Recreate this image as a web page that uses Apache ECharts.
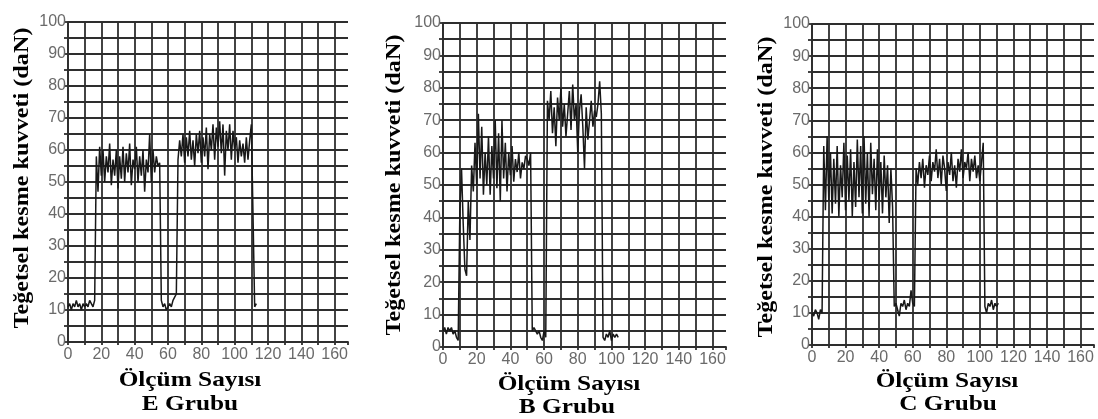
<!DOCTYPE html>
<html>
<head>
<meta charset="utf-8">
<script src="https://cdn.jsdelivr.net/npm/echarts@6/dist/echarts.min.js"></script>
<style>html,body{margin:0;padding:0;background:#fff;}#c{width:1098px;height:419px;}</style>
</head>
<body>
<div id="c"></div>
<script>
// Measurement values (one value per measurement, x = measurement number starting at 0)
const valuesE = [11,12,10,12,11,13,11,12,10,12,11,12,11,13,12,11,13,
  58,47,61,52,60,50,58,53,62,49,57,52,60,48,58,51,61,50,59,53,62,49,57,54,61,50,58,52,60,47,57,53,65,50,60,53,58,55,56,
  13,11,12,10,11,12,11,13,14,15,
  57,63,58,65,56,64,58,66,57,63,55,65,59,66,56,64,58,67,54,65,60,68,57,67,61,69,59,68,52,66,60,68,57,66,60,64,56,63,58,62,56,64,57,63,68,
  40,11,12];
const valuesB = [5,6,4,6,5,6,4,5,3,2,
  42,55,38,24,22,45,33,56,48,63,50,72,52,68,47,60,50,65,47,62,52,70,49,66,45,70,52,63,48,60,53,62,51,58,54,60,52,57,55,59,58,56,60,
  5,6,5,4,5,3,2,5,3,
  76,70,79,66,74,62,77,70,80,68,75,65,72,79,67,81,70,75,60,73,78,68,55,74,64,70,76,68,73,71,75,82,72,
  3,2,4,3,5,2,4,3,4,3];
const valuesC = [10,9,11,10,8,11,10,
  62,42,65,45,60,41,58,44,62,40,56,46,63,42,59,45,61,40,57,43,64,46,62,41,65,44,60,40,63,47,58,42,61,45,57,41,59,46,56,38,55,43,
  12,13,11,9,13,12,14,11,13,12,17,13,12,
  55,50,57,52,58,49,56,53,59,51,57,54,61,52,58,50,59,55,48,57,53,60,51,56,49,58,54,61,52,57,55,60,51,58,54,59,52,56,51,57,63,
  12,10,13,12,14,11,13,12,13];

const groupNames = ['E Grubu', 'B Grubu', 'C Grubu'];
const xTitle = 'Ölçüm Sayısı';
const yTitle = 'Teğetsel kesme kuvveti (daN)';
const xTickLabels = [0, 20, 40, 60, 80, 100, 120, 140, 160];
const yTickLabels = [0, 10, 20, 30, 40, 50, 60, 70, 80, 90, 100];

const panels = [
  {vals: valuesE, grid: {left: 68, top: 22, width: 280, height: 320}, ytx: 22, yty: 178, xtx: 190, xty: 380, gty: 404, gtx: 190},
  {vals: valuesB, grid: {left: 443, top: 23, width: 283, height: 324}, ytx: 394, yty: 185, xtx: 569, xty: 384, gty: 407, gtx: 567},
  {vals: valuesC, grid: {left: 812, top: 24, width: 282, height: 321}, ytx: 766, yty: 187, xtx: 947, xty: 381, gty: 404, gtx: 948}
];

const gridColor = '#2e2e2e';
const labelFont = {fontFamily: 'Liberation Sans', fontSize: 16, color: '#6a6a6a'};

const option = {
  animation: false,
  backgroundColor: '#fff',
  grid: panels.map(p => Object.assign({containLabel: false}, p.grid)),
  xAxis: panels.map((p, i) => ({
    type: 'value', gridIndex: i, min: 0, max: 168, interval: 10,
    axisLine: {show: true, lineStyle: {color: gridColor, width: 1.8}},
    axisTick: {show: true, length: 3, lineStyle: {color: gridColor, width: 1.8}},
    splitLine: {show: true, showMaxLine: false, lineStyle: {color: gridColor, width: 1.8}},
    axisLabel: Object.assign({margin: 5, formatter: v => xTickLabels.includes(v) ? String(v) : ''}, labelFont)
  })),
  yAxis: panels.map((p, i) => ({
    type: 'value', gridIndex: i, min: 0, max: 100, interval: 5,
    axisLine: {show: true, lineStyle: {color: gridColor, width: 1.8}},
    axisTick: {show: true, length: 4, lineStyle: {color: gridColor, width: 1.8}},
    splitLine: {show: true, lineStyle: {color: gridColor, width: 1.8}},
    axisLabel: Object.assign({margin: 2, formatter: v => yTickLabels.includes(v) ? String(v) : ''}, labelFont)
  })),
  series: panels.map((p, i) => ({
    type: 'line', xAxisIndex: i, yAxisIndex: i, showSymbol: false, symbol: 'none',
    lineStyle: {color: '#181818', width: 1.5},
    data: p.vals.map((v, k) => [k, v])
  })),
  graphic: []
};

const titleFont = 'bold 22px "Liberation Serif"';
panels.forEach((p, i) => {
  option.graphic.push({
    type: 'text', x: p.ytx, y: p.yty, rotation: Math.PI / 2, scaleX: 1.1,
    style: {text: yTitle, font: titleFont, fill: '#000', textAlign: 'center', textVerticalAlign: 'middle', align: 'center', verticalAlign: 'middle'}
  });
  option.graphic.push({
    type: 'text', x: p.xtx, y: p.xty, scaleX: 1.15,
    style: {text: xTitle, font: titleFont, fill: '#000', textAlign: 'center', textVerticalAlign: 'middle', align: 'center', verticalAlign: 'middle'}
  });
  option.graphic.push({
    type: 'text', x: p.gtx, y: p.gty, scaleX: 1.15,
    style: {text: groupNames[i], font: titleFont, fill: '#000', textAlign: 'center', textVerticalAlign: 'middle', align: 'center', verticalAlign: 'middle'}
  });
});

const chart = echarts.init(document.getElementById('c'), null, {renderer: 'canvas'});
chart.setOption(option);
</script>
</body>
</html>
